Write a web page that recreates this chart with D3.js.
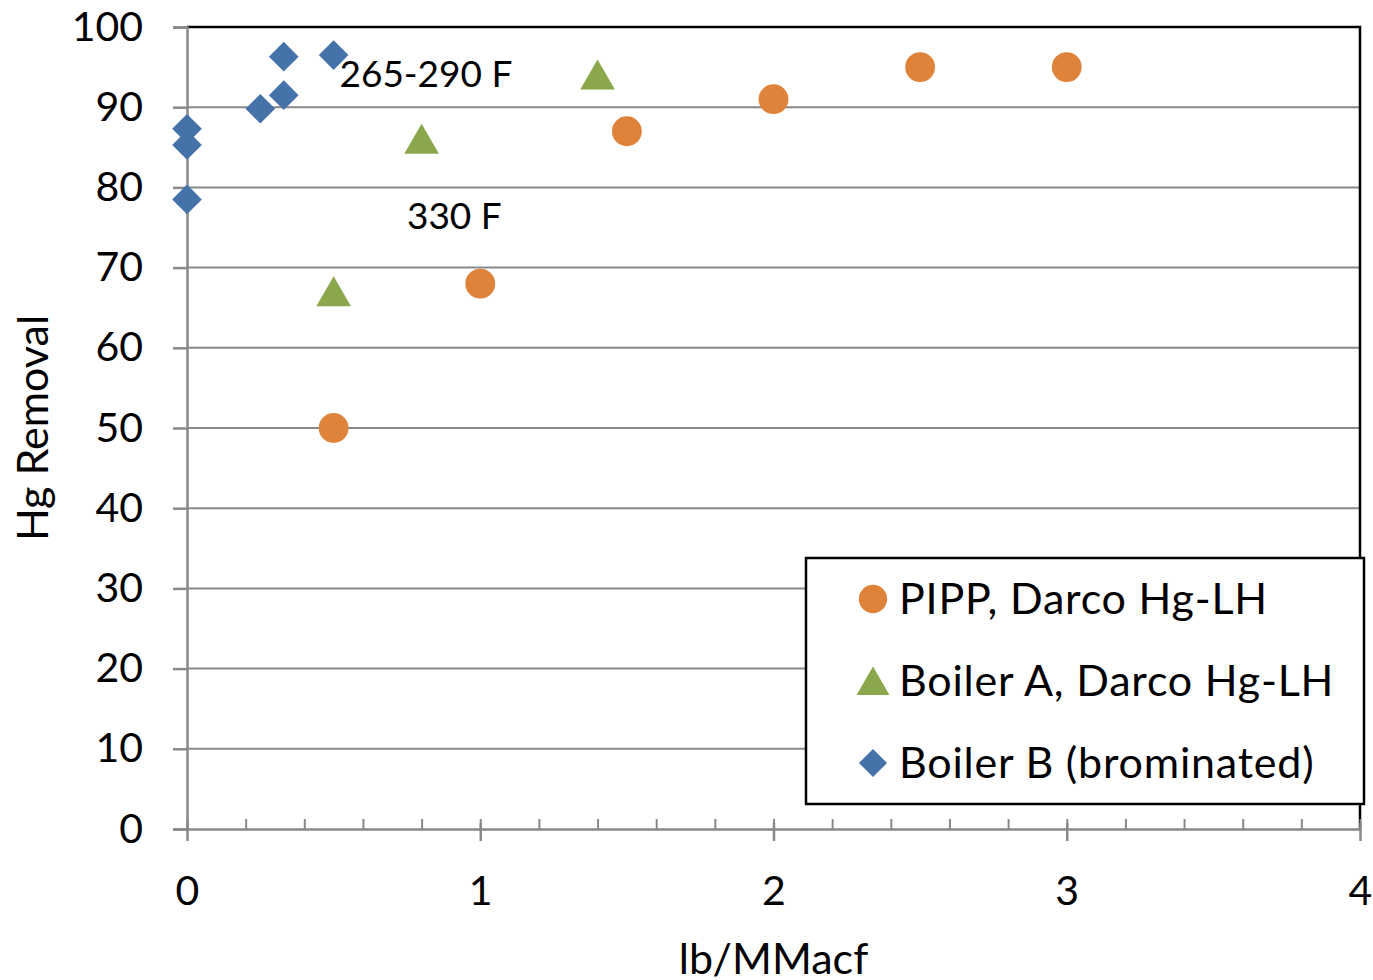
<!DOCTYPE html>
<html>
<head>
<meta charset="utf-8">
<script src="https://cdn.jsdelivr.net/npm/d3@7"></script>
<style>
  body { margin: 0; background: #fff; }
  svg { font-family: Lato, "Open Sans", sans-serif; }
</style>
</head>
<body>
<div id="chart"></div>
<script>
// Data
var pippX = [0.5, 1.0, 1.5, 2.0, 2.5, 3.0];
var pippY = [50, 68, 87, 91, 95, 95];
var boilerAX = [0.5, 0.8, 1.4];
var boilerAY = [67, 86, 94];
var boilerBX = [0, 0, 0, 0.25, 0.33, 0.33, 0.5];
var boilerBY = [87.3, 85.3, 78.5, 89.8, 91.5, 96.3, 96.5];
var seriesNames = ["PIPP, Darco Hg-LH", "Boiler A, Darco Hg-LH", "Boiler B (brominated)"];
var notes = [{x: 0.52, y: 92.5, text: "265-290 F"}, {x: 0.75, y: 74.8, text: "330 F"}];

var width = 1373, height = 980;
var margin = {left: 187, right: 13, top: 27, bottom: 151};

var svg = d3.select("#chart").append("svg")
    .attr("width", width)
    .attr("height", height);

var x = d3.scaleLinear().domain([0, 4]).range([margin.left, width - margin.right]);
var y = d3.scaleLinear().domain([0, 100]).range([height - margin.bottom, margin.top]);

var grey = "#898989";

// gridlines
svg.append("g")
    .selectAll("line")
    .data(d3.range(10, 101, 10))
    .enter().append("line")
    .attr("x1", x(0)).attr("x2", x(4))
    .attr("y1", d => y(d)).attr("y2", d => y(d))
    .attr("stroke", grey).attr("stroke-width", 2);

// plot border top/right (black)
svg.append("path")
    .attr("d", "M" + x(0) + "," + y(100) + "H" + x(4) + "V" + y(0))
    .attr("fill", "none").attr("stroke", "#000").attr("stroke-width", 2.5);

// y axis
var yAxis = svg.append("g")
    .attr("transform", "translate(" + x(0) + ",0)")
    .call(d3.axisLeft(y).tickValues(d3.range(0, 101, 10)).tickSize(14).tickPadding(30));
yAxis.select(".domain").attr("stroke", grey).attr("stroke-width", 2.5);
yAxis.selectAll(".tick line").attr("stroke", grey).attr("stroke-width", 2.5);
yAxis.selectAll("text").attr("font-size", 41).attr("fill", "#000").attr("font-family", "Lato");

// x axis: minor ticks inside
var xMinor = svg.append("g")
    .attr("transform", "translate(0," + y(0) + ")")
    .call(d3.axisTop(x).tickValues(d3.range(0, 4.01, 0.2)).tickSize(10).tickFormat(""));
xMinor.select(".domain").remove();
xMinor.selectAll(".tick line").attr("stroke", grey).attr("stroke-width", 2);

var xAxis = svg.append("g")
    .attr("transform", "translate(0," + y(0) + ")")
    .call(d3.axisBottom(x).tickValues([0, 1, 2, 3, 4]).tickSize(12).tickSizeOuter(0).tickPadding(35).tickFormat(d3.format("d")));
xAxis.select(".domain").attr("stroke", grey).attr("stroke-width", 2.5);
xAxis.selectAll(".tick line").attr("stroke", grey).attr("stroke-width", 2.5).attr("y1", -6);
xAxis.selectAll("text").attr("font-size", 41).attr("fill", "#000").attr("font-family", "Lato");

// axis titles
svg.append("text")
    .attr("transform", "translate(48," + y(50) + ") rotate(-90)")
    .attr("text-anchor", "middle")
    .attr("font-size", 43)
    .text("Hg Removal");
svg.append("text")
    .attr("x", x(2)).attr("y", 974)
    .attr("text-anchor", "middle")
    .attr("font-size", 43)
    .text("lb/MMacf");

// markers
var colors = ["#E0833A", "#8AA74B", "#4572A8"];
var shapes = [d3.symbolCircle, d3.symbolTriangle, d3.symbolDiamond2];
var sizes = [700, 520, 560];
var dy = [0, 4.5, 0]; // centre triangles on their bounding box like the original

var series = [
    d3.zip(pippX, pippY),
    d3.zip(boilerAX, boilerAY),
    d3.zip(boilerBX, boilerBY)
];

series.forEach(function(pts, i) {
    svg.append("g")
        .selectAll("path")
        .data(pts)
        .enter().append("path")
        .attr("d", d3.symbol().type(shapes[i]).size(sizes[i]))
        .attr("transform", d => "translate(" + x(d[0]) + "," + (y(d[1]) + dy[i]) + ")")
        .attr("fill", colors[i]);
});

// annotations
svg.append("g")
    .selectAll("text")
    .data(notes)
    .enter().append("text")
    .attr("x", d => x(d.x)).attr("y", d => y(d.y))
    .attr("font-size", 37)
    .text(d => d.text);

// legend
var lg = svg.append("g").attr("transform", "translate(806,558)");
lg.append("rect")
    .attr("width", 558).attr("height", 246)
    .attr("fill", "#fff").attr("stroke", "#000").attr("stroke-width", 2.5);
seriesNames.forEach(function(name, i) {
    var cy = 41 + i * 82;
    lg.append("path")
        .attr("d", d3.symbol().type(shapes[i]).size(sizes[i] * 0.9))
        .attr("transform", "translate(67," + (cy + dy[i]) + ")")
        .attr("fill", colors[i]);
    lg.append("text")
        .attr("x", 93).attr("y", cy + 15)
        .attr("font-size", 43)
        .attr("letter-spacing", 0.8)
        .text(name);
});
</script>
</body>
</html>
